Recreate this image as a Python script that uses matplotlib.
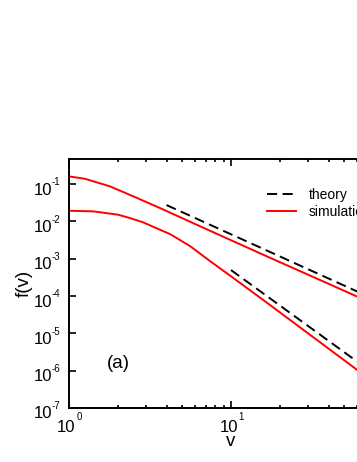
import numpy as np
import matplotlib
matplotlib.use("Agg")
import matplotlib.pyplot as plt
from matplotlib.ticker import LogLocator, NullLocator

# Arial-like face as in the original
plt.rcParams['font.family'] = ['Liberation Sans', 'DejaVu Sans']
plt.rcParams['axes.unicode_minus'] = False

# Data

# upper simulation curve
v_sim_a = [1.0, 1.255, 1.791, 2.555, 3.646, 6.44, 17.41, 39.7, 60.0]
f_sim_a = [0.1608, 0.1387, 0.0868, 0.0449, 0.02275, 0.00741, 0.00106, 2.16e-4, 9.7e-5]

# lower simulation curve
v_sim_b = [1.0, 1.413, 2.015, 2.38, 2.875, 3.45, 4.203, 5.583, 7.42, 9.86, 15.83, 58.3, 60.0]
f_sim_b = [0.01928, 0.01858, 0.01507, 0.01227, 0.00942, 0.00662, 0.00458, 0.002183,
           8.65e-4, 3.54e-4, 7.82e-5, 1.156e-6, 1.05e-6]

# theory lines (power laws, end points)
v_th_a = [4.0, 60.0]
f_th_a = [0.0274, 1.33e-4]
v_th_b = [10.0, 60.0]
f_th_b = [4.97e-4, 1.76e-6]

# tick label exponents (10^k)
x_exps = [0, 1]
y_exps = [-7, -6, -5, -4, -3, -2, -1]

xlims = (1, 100)
ylims = (1e-7, 0.47)

# Plot

fig = plt.figure(figsize=(3.57, 4.62), dpi=100)
# axes runs past the right edge of the figure, as in the reference
ax = fig.add_axes([69 / 357, 54 / 462, 324 / 357, 249 / 462])

dash = (0, (5.2, 2.8))
ax.loglog(v_th_a, f_th_a, color='black', lw=1.4, ls=dash, label='theory')
ax.loglog(v_sim_a, f_sim_a, color='red', lw=1.4, label='simulation')
ax.loglog(v_th_b, f_th_b, color='black', lw=1.4, ls=dash)
ax.loglog(v_sim_b, f_sim_b, color='red', lw=1.4)

ax.set_xlim(*xlims)
ax.set_ylim(*ylims)

ax.yaxis.set_major_locator(LogLocator(base=10, numticks=20))
ax.yaxis.set_minor_locator(NullLocator())
ax.xaxis.set_major_locator(LogLocator(base=10, numticks=10))
ax.xaxis.set_minor_locator(LogLocator(base=10, subs=np.arange(2, 10), numticks=10))

for s in ax.spines.values():
    s.set_linewidth(1.4)

ax.tick_params(which='both', direction='in', top=True, right=True, width=1.2,
               labelbottom=False, labelleft=False)
ax.tick_params(which='major', length=5)
ax.tick_params(which='minor', length=2.5)

# tick labels: big "10" with a small raised exponent
for k in y_exps:
    ax.annotate('10', xy=(0, 10.0 ** k), xycoords=('axes fraction', 'data'),
                xytext=(-16.5, -10.5), textcoords='offset pixels',
                ha='right', va='baseline', fontsize=12)
    ax.annotate(str(k), xy=(0, 10.0 ** k), xycoords=('axes fraction', 'data'),
                xytext=(-9, -1.3), textcoords='offset pixels',
                ha='right', va='baseline', fontsize=7)
for k in x_exps:
    ax.annotate('10', xy=(10.0 ** k, 0), xycoords=('data', 'axes fraction'),
                xytext=(-2.5, -24), textcoords='offset pixels',
                ha='center', va='baseline', fontsize=12)
    ax.annotate(str(k), xy=(10.0 ** k, 0), xycoords=('data', 'axes fraction'),
                xytext=(7.5, -12), textcoords='offset pixels',
                ha='left', va='baseline', fontsize=7)

ax.set_xlabel('v', fontsize=13.5, va='baseline')
ax.xaxis.set_label_coords(0.5, -0.151)
ax.set_ylabel('f(v)', fontsize=13.5, va='center')
ax.yaxis.set_label_coords(-0.137, 0.5)

fig.text(107 / 357, 1 - 363 / 462, '(a)', fontsize=13.5, ha='left', va='center')

leg = ax.legend(loc='upper left', bbox_to_anchor=(267 / 357, 1 - 188 / 462),
                bbox_transform=fig.transFigure, frameon=False, fontsize=10,
                handlelength=2.1, handletextpad=0.9, labelspacing=0.2,
                borderpad=0, borderaxespad=0)

fig.savefig('out.png', dpi=100)
